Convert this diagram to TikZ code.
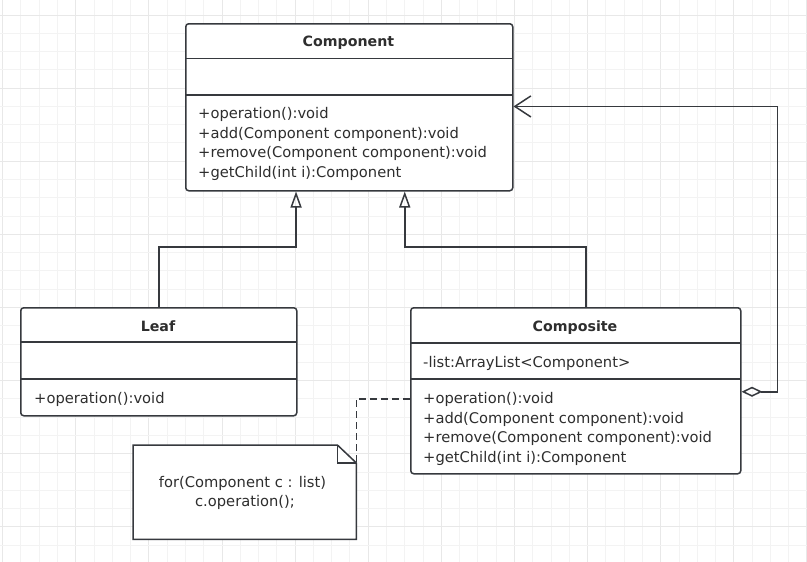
\documentclass[tikz,border=0pt]{standalone}
\usepackage{fontspec}
\setmainfont{DejaVu Sans}
\usetikzlibrary{arrows.meta}
\definecolor{strk}{HTML}{36393E}
\definecolor{txt}{HTML}{2E2E2E}
\definecolor{gminor}{HTML}{F3F3F3}
\definecolor{gmajor}{HTML}{E8E8E8}
\tikzset{
  umlbox/.style={draw=strk, line width=1.5pt, fill=white, rounded corners=3pt, inner sep=0pt, anchor=north west},
  title/.style={font=\fontsize{14.2}{16}\selectfont\bfseries, text=txt, anchor=base, inner sep=0pt},
  member/.style={font=\fontsize{14.7}{16}\selectfont, text=txt, anchor=base west, inner sep=0pt},
  sep/.style={draw=strk, line width=1.5pt},
  conn/.style={draw=strk, line width=1.5pt},
  gen/.style={conn, -{Triangle[open, length=16pt, width=11pt]}},
  agg/.style={conn, {Diamond[open, length=21pt, width=10pt]}-{Straight Barb[length=16pt, width=21pt]}},
  dep/.style={conn, dash pattern=on 7pt off 4pt},
}
\begin{document}
\begin{tikzpicture}[x=1pt, y=-1pt]
\useasboundingbox (0,0) rectangle (807,562);
% grid
\foreach \i in {0,...,44} {
  \pgfmathsetmacro{\gx}{2.67+18.28*\i}
  \pgfmathtruncatemacro{\m}{mod(\i,4)}
  \ifnum\m=0
    \draw[gmajor, line width=1pt] (\gx,0) -- (\gx,562);
  \else
    \draw[gminor, line width=1pt] (\gx,0) -- (\gx,562);
  \fi
}
\foreach \i in {1,...,31} {
  \pgfmathsetmacro{\gy}{-3.28+18.28*\i}
  \pgfmathtruncatemacro{\m}{mod(\i-1,4)}
  \ifnum\m=0
    \draw[gmajor, line width=1pt] (0,\gy) -- (807,\gy);
  \else
    \draw[gminor, line width=1pt] (0,\gy) -- (807,\gy);
  \fi
}

% Component
\node[umlbox, minimum width=327pt, minimum height=167pt] (comp) at (185,23) {};
\draw[sep] (185,58.3) -- (512,58.3);
\draw[sep] (185,95) -- (512,95);
\node[title] (compT) at (348.5,46.7) {Component};
\node[member] (compM1) at (198,118.5) {+operation():void};
\node[member] (compM2) at (198,138) {+add(Component component):void};
\node[member] (compM3) at (198,157.5) {+remove(Component component):void};
\node[member] (compM4) at (198,177) {+getChild(int i):Component};

% Leaf
\node[umlbox, minimum width=276pt, minimum height=108pt] (leaf) at (20,307) {};
\draw[sep] (20,342) -- (296,342);
\draw[sep] (20,379) -- (296,379);
\node[title] (leafT) at (158,331.7) {Leaf};
\node[member] (leafM1) at (34,403.3) {+operation():void};

% Composite
\node[umlbox, minimum width=330pt, minimum height=166pt] (compo) at (410,307) {};
\draw[sep] (410,343) -- (740,343);
\draw[sep] (410,379) -- (740,379);
\node[title] (compoT) at (575,331.7) {Composite};
\node[member] (compoA1) at (423,367.7) {-list:ArrayList<Component>};
\node[member] (compoM1) at (423,403.5) {+operation():void};
\node[member] (compoM2) at (423,423) {+add(Component component):void};
\node[member] (compoM3) at (423,442.5) {+remove(Component component):void};
\node[member] (compoM4) at (423,462) {+getChild(int i):Component};

% Note
\node[inner sep=0pt, minimum width=223pt, minimum height=94pt, anchor=north west] (note) at (133,445) {};
\draw[conn, fill=white] (note.north west) -- ([xshift=-19pt]note.north east) -- ([yshift=-18pt]note.north east) -- (note.south east) -- (note.south west) -- cycle;
\draw[conn] ([xshift=-19pt]note.north east) -- ++(0,18) -- ([yshift=-18pt]note.north east);
\node[member, anchor=base] (noteL1) at (242.5,487.3) {for(Component c : list)};
\node[member, anchor=base] (noteL2) at (245,506.7) {c.operation();};

% connectors
\draw[gen] (leaf.north) -- ++(0,-60) -| ([xshift=-53.2pt]comp.south);
\draw[gen] ([xshift=10pt]compo.north) -- ++(0,-60) -| ([xshift=55.5pt]comp.south);
\draw[agg] ([yshift=-1pt]compo.east) -- ++(36,0) |- ([yshift=0.8pt]comp.east);
\draw[dep] ([yshift=-8pt]compo.west) -| ([yshift=-10pt]note.east);
\end{tikzpicture}
\end{document}
